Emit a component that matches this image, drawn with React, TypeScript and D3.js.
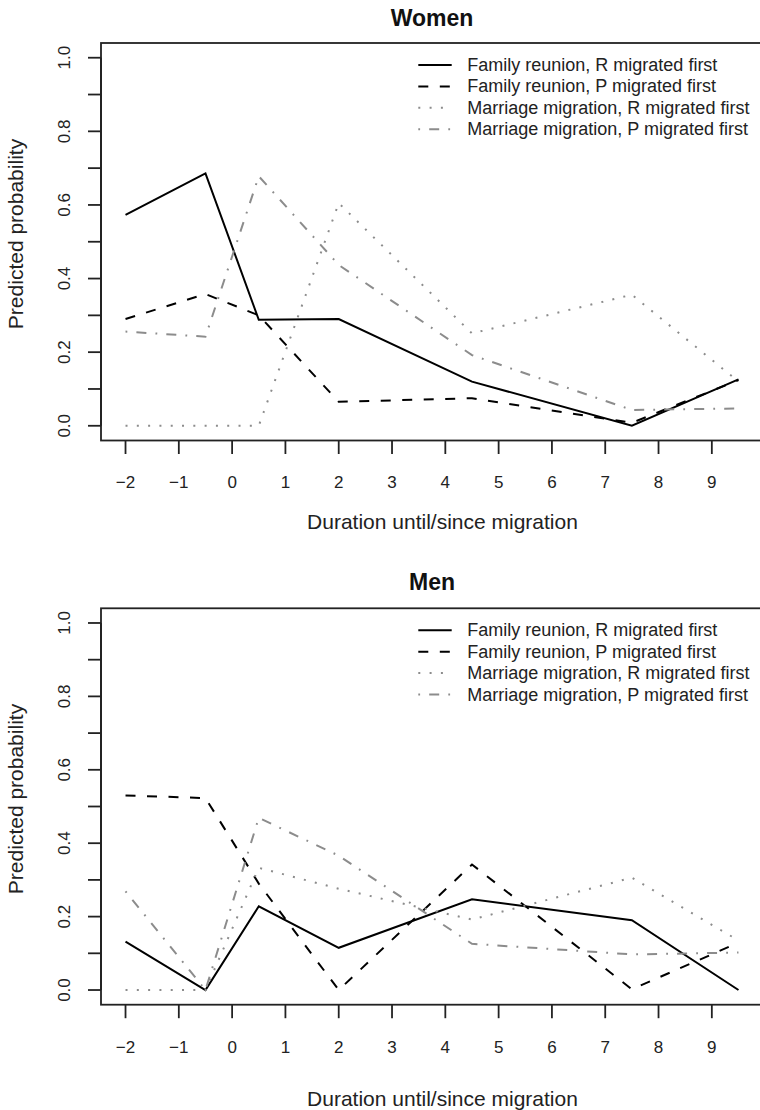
import React from "react"
import * as d3 from "d3"

// durations at which the predictions were taken
const durations = [-2, -0.5, 0.5, 2, 4.5, 7.5, 9.5]

const xTickValues = [-2, -1, 0, 1, 2, 3, 4, 5, 6, 7, 8, 9]
const yTickValues = [0, 0.1, 0.2, 0.3, 0.4, 0.5, 0.6, 0.7, 0.8, 0.9, 1.0]
const yLabelValues = [0, 0.2, 0.4, 0.6, 0.8, 1.0]

const seriesNames = [
    "Family reunion, R migrated first",
    "Family reunion, P migrated first",
    "Marriage migration, R migrated first",
    "Marriage migration, P migrated first",
]

// Women
const womenFamilyR = [0.573, 0.686, 0.288, 0.290, 0.120, 0.0, 0.126]
const womenFamilyP = [0.290, 0.358, 0.300, 0.065, 0.075, 0.008, 0.124]
const womenMarriageR = [0.0, 0.0, 0.0, 0.605, 0.251, 0.356, 0.120]
const womenMarriageP = [0.256, 0.242, 0.678, 0.437, 0.192, 0.043, 0.047]

// Men
const menFamilyR = [0.132, 0.0, 0.228, 0.115, 0.247, 0.190, 0.0]
const menFamilyP = [0.530, 0.523, 0.290, 0.0, 0.342, 0.002, 0.129]
const menMarriageR = [0.0, 0.0, 0.333, 0.276, 0.192, 0.306, 0.135]
const menMarriageP = [0.269, 0.0, 0.469, 0.366, 0.126, 0.097, 0.102]

const FONT = "'Liberation Sans', Arial, Helvetica, sans-serif"
const GRAY = "#8c8c8c"

// line styles mimic R's lty 1..4
const lineStyles = [
    { stroke: "#000", dash: "none", width: 2 },
    { stroke: "#000", dash: "10,11.5", width: 2 },
    { stroke: GRAY, dash: "2,9.3", width: 2 },
    { stroke: GRAY, dash: "1.8,9.1,10,9.1", width: 2 },
]

const x = d3.scaleLinear().domain([-2.46, 9.96]).range([101, 763])

const fmtX = (v: number) => (v < 0 ? "\u2212" + Math.abs(v) : String(v))

interface PanelProps {
    title: string
    top: number
    bottom: number
    series: number[][]
    titleY: number
    tickLabelY: number
    xTitleY: number
    yTitleY: number
}

function Panel(props: PanelProps) {
    const { title, top, bottom, series, titleY, tickLabelY, xTitleY, yTitleY } = props
    const y = d3.scaleLinear().domain([-0.04, 1.04]).range([bottom, top])
    const line = d3.line<number>()
        .x((_, i) => x(durations[i]))
        .y(d => y(d))

    const legendX0 = 418.3
    const legendX1 = 451.7
    const legendTextX = 467.3

    return (
        <g fontFamily={FONT}>
            <text x={432} y={titleY} textAnchor="middle" fontWeight="bold" fontSize={23} fill="#111">{title}</text>

            <rect x={x.range()[0]} y={top} width={x.range()[1] - x.range()[0]} height={bottom - top}
                fill="none" stroke="#222" strokeWidth={1.8} />

            {/* y axis */}
            <line x1={101} x2={101} y1={y(0)} y2={y(1)} stroke="#222" strokeWidth={1.8} />
            {yTickValues.map(v => (
                <line key={"yt" + v} x1={88} x2={101} y1={y(v)} y2={y(v)} stroke="#222" strokeWidth={1.8} />
            ))}
            {yLabelValues.map(v => (
                <text key={"yl" + v} transform={`translate(70,${y(v)}) rotate(-90)`} textAnchor="middle"
                    fontSize={17} fill="#222">{v.toFixed(1)}</text>
            ))}
            <text transform={`translate(23.3,${yTitleY}) rotate(-90)`} textAnchor="middle" fontSize={21} fill="#222">
                Predicted probability
            </text>

            {/* x axis */}
            {xTickValues.map(v => (
                <line key={"xt" + v} x1={x(v)} x2={x(v)} y1={bottom} y2={bottom + 13.5} stroke="#222" strokeWidth={1.8} />
            ))}
            {xTickValues.map(v => (
                <text key={"xl" + v} x={x(v)} y={tickLabelY} textAnchor="middle" fontSize={17} fill="#222">{fmtX(v)}</text>
            ))}
            <text x={442.5} y={xTitleY} textAnchor="middle" fontSize={21} fill="#222">Duration until/since migration</text>

            {/* series */}
            {series.map((s, i) => (
                <path key={"s" + i} d={line(s) || ""} fill="none" stroke={lineStyles[i].stroke}
                    strokeWidth={lineStyles[i].width} strokeDasharray={lineStyles[i].dash} />
            ))}

            {/* legend */}
            {seriesNames.map((name, i) => {
                const ry = top + 22 + i * 21.4
                return (
                    <g key={"lg" + i}>
                        <line x1={legendX0} x2={legendX1} y1={ry} y2={ry} stroke={lineStyles[i].stroke}
                            strokeWidth={lineStyles[i].width} strokeDasharray={lineStyles[i].dash} />
                        <text x={legendTextX} y={ry + 6} fontSize={18} fill="#222">{name}</text>
                    </g>
                )
            })}
        </g>
    )
}

export default function App() {
    return (
        <svg width={760} height={1110} style={{ position: "absolute", left: 0, top: 0, background: "#fff" }}>
            <rect width={760} height={1110} fill="#fff" />
            <Panel title="Women" top={43} bottom={440.5}
                series={[womenFamilyR, womenFamilyP, womenMarriageR, womenMarriageP]}
                titleY={26} tickLabelY={488.3} xTitleY={529.3} yTitleY={234} />
            <Panel title="Men" top={608.3} bottom={1004.7}
                series={[menFamilyR, menFamilyP, menMarriageR, menMarriageP]}
                titleY={590} tickLabelY={1053.3} xTitleY={1106} yTitleY={799} />
        </svg>
    )
}
